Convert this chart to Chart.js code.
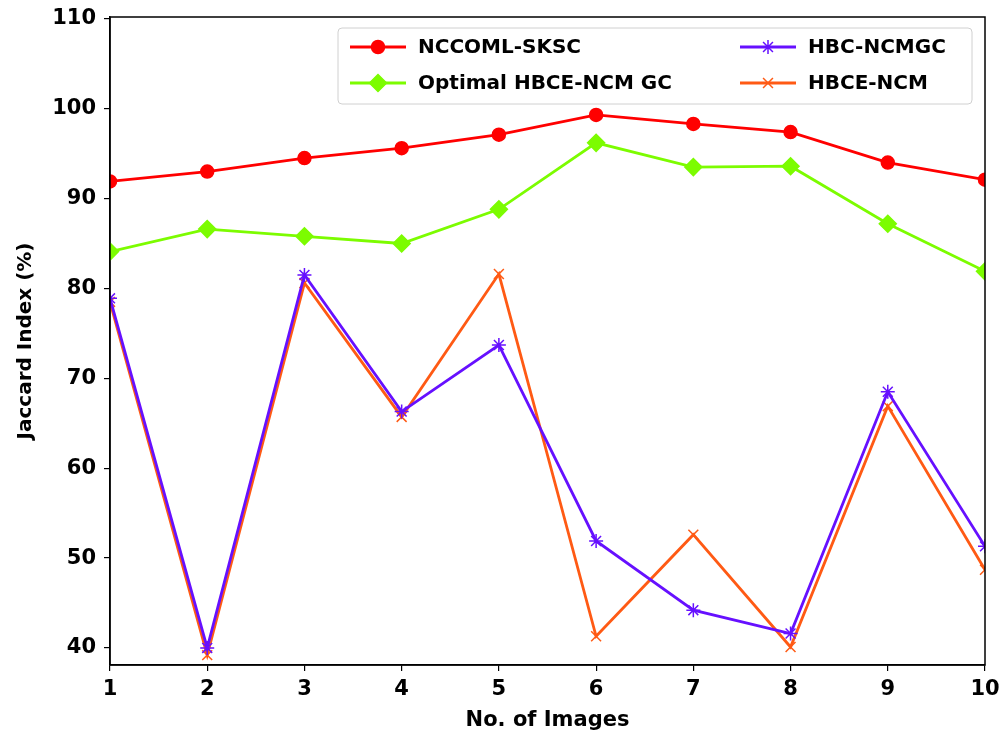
<!DOCTYPE html>
<html>
<head>
<meta charset="utf-8">
<script src="https://cdn.jsdelivr.net/npm/chart.js@4.4.0/dist/chart.umd.min.js"></script>
<style>
  html, body { margin: 0; padding: 0; background: #fff; }
  #wrap { width: 999px; height: 735px; }
</style>
</head>
<body>
<div id="wrap"><canvas id="chart" width="999" height="735"></canvas></div>
<script>
// image numbers on the x axis
const images = [1, 2, 3, 4, 5, 6, 7, 8, 9, 10];

// jaccard index values (%)
const nccomlSksc = [91.9, 93.0, 94.5, 95.6, 97.1, 99.3, 98.3, 97.4, 94.0, 92.1];
const optimalHbce = [84.1, 86.6, 85.8, 85.0, 88.8, 96.2, 93.5, 93.6, 87.2, 81.9];
const hbcNcmgc = [78.9, 40.0, 81.5, 66.3, 73.7, 51.9, 44.2, 41.6, 68.5, 51.3];
const hbceNcm = [78.5, 39.2, 80.6, 65.7, 81.6, 41.3, 52.6, 40.1, 66.9, 48.7];

const yTicks = [40, 50, 60, 70, 80, 90, 100, 110];

const FONT = "'DejaVu Sans', sans-serif";

function toPoints(values) {
  return values.map((v, i) => ({ x: images[i], y: v }));
}

function series(label, values, color, style, radius) {
  return {
    label: label,
    data: toPoints(values),
    borderColor: color,
    backgroundColor: color,
    borderWidth: 2.8,
    pointStyle: style,
    pointRadius: radius,
    pointHoverRadius: radius,
    pointBorderColor: color,
    pointBackgroundColor: color,
    pointBorderWidth: 1.5,
    tension: 0
  };
}

// frame round the plot area (top and right spines)
const framePlugin = {
  id: 'frame',
  afterDraw(chart) {
    const a = chart.chartArea;
    const ctx = chart.ctx;
    ctx.save();
    ctx.strokeStyle = '#000';
    ctx.lineWidth = 1.5;
    ctx.strokeRect(a.left, a.top, a.right - a.left, a.bottom - a.top);
    ctx.restore();
  }
};

// two column legend inside the plot, like matplotlib
const legendPlugin = {
  id: 'boxLegend',
  afterDraw(chart) {
    const ctx = chart.ctx;
    const sets = chart.data.datasets;
    const box = { x: 338, y: 28, w: 634, h: 76 };
    ctx.save();
    ctx.fillStyle = 'rgba(255,255,255,0.85)';
    ctx.strokeStyle = '#d0d0d0';
    ctx.lineWidth = 1;
    ctx.beginPath();
    ctx.roundRect(box.x, box.y, box.w, box.h, 4);
    ctx.fill();
    ctx.stroke();

    // left column holds the first two series, right column the others
    const cols = [350, 740];
    const rows = [47, 83];
    sets.forEach((ds, i) => {
      const cx = cols[Math.floor(i / 2)];
      const cy = rows[i % 2];
      ctx.strokeStyle = ds.borderColor;
      ctx.lineWidth = ds.borderWidth;
      ctx.beginPath();
      ctx.moveTo(cx, cy);
      ctx.lineTo(cx + 56, cy);
      ctx.stroke();
      ctx.fillStyle = ds.borderColor;
      ctx.strokeStyle = ds.borderColor;
      ctx.lineWidth = ds.pointBorderWidth;
      Chart.helpers.drawPoint(ctx, {
        pointStyle: ds.pointStyle,
        radius: ds.pointRadius,
        borderWidth: ds.pointBorderWidth,
        rotation: 0
      }, cx + 28, cy);
      ctx.fillStyle = '#000';
      ctx.font = 'bold 20px ' + FONT;
      ctx.textBaseline = 'middle';
      ctx.textAlign = 'left';
      ctx.fillText(ds.label, cx + 68, cy + 1);
    });
    ctx.restore();
  }
};

const tickFont = { family: FONT, size: 21, weight: 'bold' };

new Chart(document.getElementById('chart'), {
  type: 'line',
  data: {
    datasets: [
      series('NCCOML-SKSC', nccomlSksc, '#ff0000', 'circle', 6.5),
      series('Optimal HBCE-NCM GC', optimalHbce, '#7cfc00', 'rectRot', 8.5),
      series('HBC-NCMGC', hbcNcmgc, '#6610ff', 'star', 7),
      series('HBCE-NCM', hbceNcm, '#ff5a14', 'crossRot', 7)
    ]
  },
  options: {
    responsive: false,
    animation: false,
    layout: { padding: { top: 17, right: 14, bottom: 0, left: 0 } },
    plugins: {
      legend: { display: false },
      tooltip: { enabled: false }
    },
    scales: {
      x: {
        type: 'linear',
        min: 1,
        max: 10,
        afterFit(scale) {
          scale.height = 70;
          scale.paddingLeft = 0;
          scale.paddingRight = 0;
        },
        afterBuildTicks(scale) { scale.ticks = images.map(v => ({ value: v })); },
        grid: { drawOnChartArea: false, drawTicks: true, tickLength: 6, color: '#000', lineWidth: 1.2 },
        border: { color: '#000', width: 1.5 },
        ticks: { color: '#000', font: tickFont, padding: 6, maxRotation: 0 },
        title: {
          display: true,
          text: 'No. of Images',
          color: '#000',
          font: { family: FONT, size: 21, weight: 'bold' },
          padding: { top: 0, bottom: 2 }
        }
      },
      y: {
        min: 38.1,
        max: 110.2,
        afterFit(scale) {
          scale.width = 110;
          scale.paddingTop = 0;
          scale.paddingBottom = 0;
        },
        afterBuildTicks(scale) { scale.ticks = yTicks.map(v => ({ value: v })); },
        grid: { drawOnChartArea: false, drawTicks: true, tickLength: 6, color: '#000', lineWidth: 1.2 },
        border: { color: '#000', width: 1.5 },
        ticks: { color: '#000', font: tickFont, padding: 8 },
        title: {
          display: true,
          text: 'Jaccard Index (%)',
          color: '#000',
          font: { family: FONT, size: 20, weight: 'bold' },
          padding: { top: 14, bottom: 4 }
        }
      }
    }
  },
  plugins: [framePlugin, legendPlugin]
});
</script>
</body>
</html>
